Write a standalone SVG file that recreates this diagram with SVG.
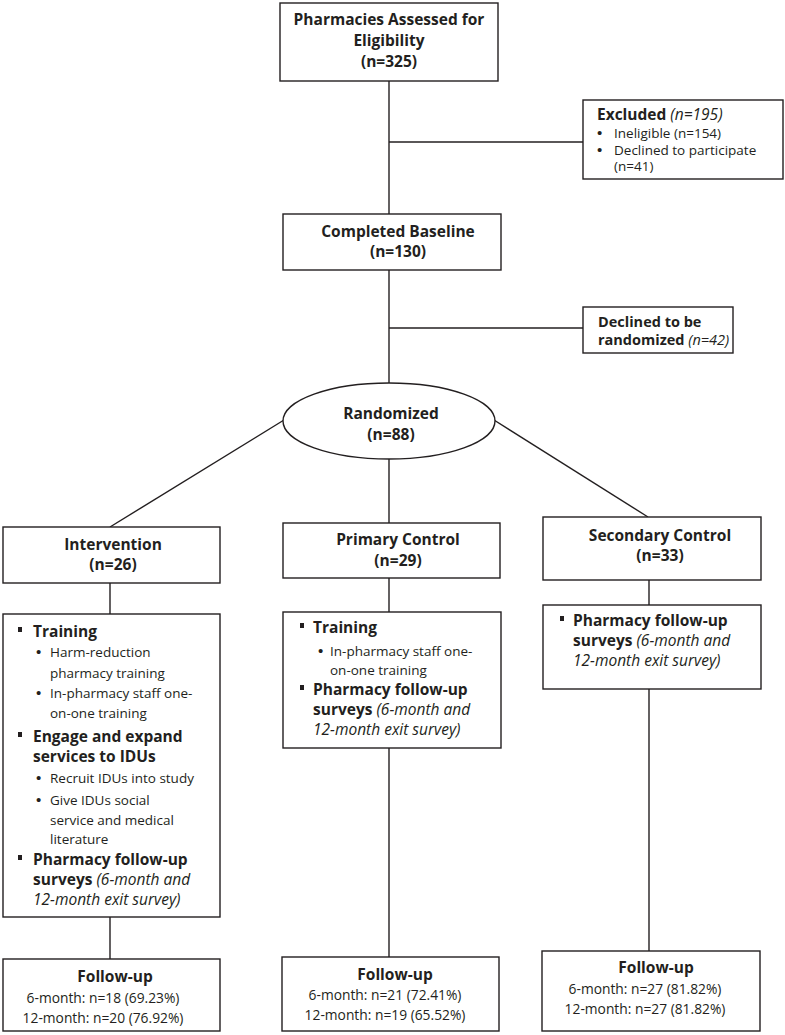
<svg xmlns="http://www.w3.org/2000/svg" width="785" height="1035" viewBox="0 0 785 1035">
<style>
.box{fill:#fff;stroke:#231f20;stroke-width:1.4}
.ln{fill:none;stroke:#231f20;stroke-width:1.4}
text{font-family:"Open Sans","Liberation Sans",sans-serif;fill:#231f20}
.h{font-weight:bold;font-size:15.5px}
.hd{font-weight:bold;font-size:14.5px}
.hc{font-weight:bold;font-size:15.5px;text-anchor:middle}
.b{font-weight:bold;font-size:15.5px}
.r{font-size:13.5px}
.rc{font-size:13.8px;text-anchor:middle}
.i{font-style:italic;font-weight:normal}
.bl{font-family:"Liberation Sans",sans-serif;font-size:15px}
.sq{fill:#231f20}
</style>
<rect width="785" height="1035" fill="#fff"/>
<g id="connectors">
<line class="ln" x1="389" y1="81" x2="389" y2="214"/>
<line class="ln" x1="389" y1="142" x2="583" y2="142"/>
<line class="ln" x1="389" y1="270" x2="389" y2="383"/>
<line class="ln" x1="389" y1="328" x2="583" y2="328"/>
<line class="ln" x1="284" y1="420" x2="110" y2="527"/>
<line class="ln" x1="389" y1="459" x2="389" y2="523"/>
<line class="ln" x1="494" y1="420" x2="648" y2="517"/>
<line class="ln" x1="110" y1="583" x2="110" y2="614"/>
<line class="ln" x1="389" y1="578" x2="389" y2="612"/>
<line class="ln" x1="649" y1="580" x2="649" y2="605"/>
<line class="ln" x1="110" y1="917" x2="110" y2="959"/>
<line class="ln" x1="389" y1="748" x2="389" y2="957"/>
<line class="ln" x1="649" y1="689" x2="649" y2="951"/>
</g>
<g id="assessed">
<rect class="box" x="280" y="3" width="218" height="78"/>
<text class="hc" x="389" y="25">Pharmacies Assessed for</text>
<text class="hc" x="389" y="46">Eligibility</text>
<text class="hc" x="389" y="67">(n=325)</text>
</g>
<g id="excluded">
<rect class="box" x="583" y="100" width="200" height="79"/>
<text class="h" x="597" y="120">Excluded <tspan class="i">(n=195)</tspan></text>
<text class="bl" x="597" y="138">•</text><text class="r" x="614" y="138">Ineligible (n=154)</text>
<text class="bl" x="597" y="155">•</text><text class="r" x="614" y="155">Declined to participate</text>
<text class="r" x="614" y="171">(n=41)</text>
</g>
<g id="baseline">
<rect class="box" x="283" y="214" width="218" height="56"/>
<text class="hc" x="398" y="237">Completed Baseline</text>
<text class="hc" x="398" y="257">(n=130)</text>
</g>
<g id="declined">
<rect class="box" x="583" y="307" width="150" height="46"/>
<text class="hd" x="598" y="327">Declined to be</text>
<text class="hd" x="598" y="345">randomized <tspan class="i">(n=42)</tspan></text>
</g>
<g id="randomized">
<ellipse class="box" cx="389" cy="421" rx="106" ry="38"/>
<text class="hc" x="391" y="419">Randomized</text>
<text class="hc" x="391" y="440">(n=88)</text>
</g>
<g id="intervention">
<rect class="box" x="3" y="527" width="217" height="56"/>
<text class="hc" x="113" y="550">Intervention</text>
<text class="hc" x="113" y="570">(n=26)</text>
</g>
<g id="primary">
<rect class="box" x="283" y="523" width="217" height="55"/>
<text class="hc" x="398" y="545">Primary Control</text>
<text class="hc" x="398" y="566">(n=29)</text>
</g>
<g id="secondary">
<rect class="box" x="543" y="517" width="218" height="63"/>
<text class="hc" x="660" y="541">Secondary Control</text>
<text class="hc" x="660" y="561">(n=33)</text>
</g>
<g id="intervention-activities">
<rect class="box" x="3" y="614" width="217" height="303"/>
<rect class="sq" x="18" y="627" width="4" height="5"/>
<text class="b" x="33" y="637">Training</text>
<text class="bl" x="36" y="657">•</text><text class="r" x="50" y="657">Harm-reduction</text>
<text class="r" x="50" y="678">pharmacy training</text>
<text class="bl" x="36" y="698">•</text><text class="r" x="50" y="698">In-pharmacy staff one-</text>
<text class="r" x="50" y="718">on-one training</text>
<rect class="sq" x="18" y="732" width="4" height="5"/>
<text class="b" x="33" y="742">Engage and expand</text>
<text class="b" x="33" y="762">services to IDUs</text>
<text class="bl" x="36" y="783">•</text><text class="r" x="50" y="783">Recruit IDUs into study</text>
<text class="bl" x="36" y="805">•</text><text class="r" x="50" y="805">Give IDUs social</text>
<text class="r" x="50" y="825">service and medical</text>
<text class="r" x="50" y="844">literature</text>
<rect class="sq" x="18" y="855" width="4" height="5"/>
<text class="b" x="33" y="865">Pharmacy follow-up</text>
<text class="b" x="33" y="885">surveys <tspan class="i">(6-month and</tspan></text>
<text class="b i" x="33" y="905">12-month exit survey)</text>
</g>
<g id="primary-activities">
<rect class="box" x="283" y="612" width="218" height="136"/>
<rect class="sq" x="300" y="623" width="4" height="5"/>
<text class="b" x="313" y="633">Training</text>
<text class="bl" x="318" y="656">•</text><text class="r" x="330" y="656">In-pharmacy staff one-</text>
<text class="r" x="330" y="675">on-one training</text>
<rect class="sq" x="300" y="685" width="4" height="5"/>
<text class="b" x="313" y="695">Pharmacy follow-up</text>
<text class="b" x="313" y="715">surveys <tspan class="i">(6-month and</tspan></text>
<text class="b i" x="313" y="735">12-month exit survey)</text>
</g>
<g id="secondary-activities">
<rect class="box" x="543" y="605" width="218" height="84"/>
<rect class="sq" x="560" y="616" width="4" height="5"/>
<text class="b" x="573" y="626">Pharmacy follow-up</text>
<text class="b" x="573" y="646">surveys <tspan class="i">(6-month and</tspan></text>
<text class="b i" x="573" y="666">12-month exit survey)</text>
</g>
<g id="intervention-followup">
<rect class="box" x="3" y="959" width="217" height="72"/>
<text class="hc" x="115" y="982">Follow-up</text>
<text class="rc" x="103" y="1003">6-month: n=18 (69.23%)</text>
<text class="rc" x="103" y="1023">12-month: n=20 (76.92%)</text>
</g>
<g id="primary-followup">
<rect class="box" x="282" y="957" width="217" height="74"/>
<text class="hc" x="395" y="980">Follow-up</text>
<text class="rc" x="385" y="1000">6-month: n=21 (72.41%)</text>
<text class="rc" x="385" y="1020">12-month: n=19 (65.52%)</text>
</g>
<g id="secondary-followup">
<rect class="box" x="542" y="951" width="218" height="80"/>
<text class="hc" x="656" y="973">Follow-up</text>
<text class="rc" x="645" y="994">6-month: n=27 (81.82%)</text>
<text class="rc" x="645" y="1014">12-month: n=27 (81.82%)</text>
</g>
</svg>
